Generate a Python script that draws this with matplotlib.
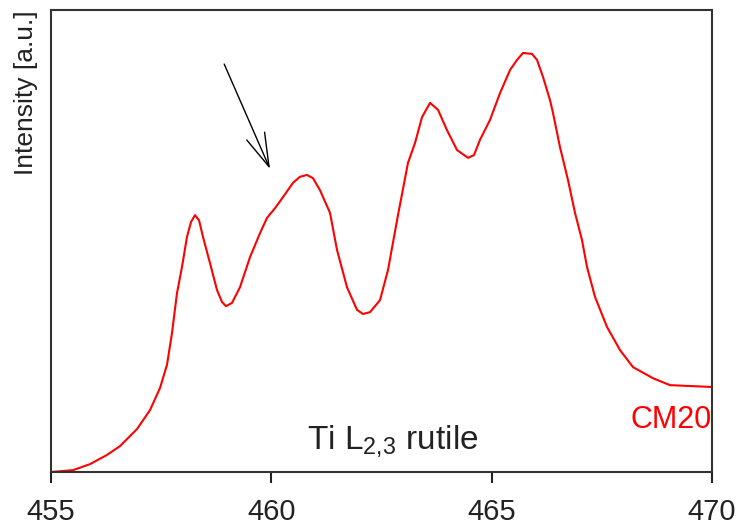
import matplotlib
matplotlib.use("Agg")
import matplotlib.pyplot as plt

# Ti L2,3 edge, rutile (CM20)
energy = [455.000, 455.499, 455.885, 456.271, 456.566, 456.952, 457.247, 457.474,
          457.632, 457.746, 457.859, 457.973, 458.086, 458.177, 458.268, 458.359,
          458.449, 458.608, 458.767, 458.880, 458.971, 459.107, 459.289, 459.516,
          459.743, 459.902, 460.083, 460.265, 460.492, 460.650, 460.809, 460.945,
          461.104, 461.331, 461.490, 461.717, 461.944, 462.080, 462.239, 462.466,
          462.647, 462.874, 463.101, 463.260, 463.419, 463.601, 463.782, 463.986,
          464.213, 464.463, 464.599, 464.735, 464.962, 465.189, 465.416, 465.575,
          465.711, 465.915, 466.029, 466.165, 466.324, 466.392, 466.551, 466.732,
          466.891, 467.050, 467.163, 467.345, 467.617, 467.912, 468.207, 468.661,
          469.047, 470.000]
intensity = [0.000, 0.004, 0.017, 0.037, 0.056, 0.093, 0.134, 0.182,
             0.232, 0.301, 0.387, 0.444, 0.509, 0.541, 0.556, 0.545,
             0.509, 0.452, 0.394, 0.368, 0.359, 0.366, 0.400, 0.465,
             0.517, 0.550, 0.571, 0.595, 0.626, 0.639, 0.643, 0.636,
             0.610, 0.561, 0.481, 0.400, 0.351, 0.342, 0.346, 0.372,
             0.437, 0.556, 0.669, 0.712, 0.768, 0.799, 0.784, 0.740,
             0.697, 0.680, 0.686, 0.719, 0.762, 0.820, 0.870, 0.892,
             0.907, 0.905, 0.892, 0.855, 0.805, 0.777, 0.703, 0.632,
             0.561, 0.502, 0.444, 0.379, 0.314, 0.264, 0.227, 0.203,
             0.188, 0.184]

x_ticks = [455, 460, 465, 470]
sample_name = "CM20"
edge_label = "Ti L$_{\\mathregular{2{,}3}}$ rutile"

# pointer to the shoulder of the second peak
arrow_tail = (458.93, 0.883)
arrow_head = (459.97, 0.656)

plt.rcParams["font.family"] = ["Liberation Sans", "DejaVu Sans"]
plt.rcParams["mathtext.fontset"] = "custom"
plt.rcParams["mathtext.rm"] = "Liberation Sans"

fig = plt.figure(figsize=(7.4, 5.29), dpi=100)
ax = fig.add_axes([51 / 740, 1 - 472 / 529, 661 / 740, 462 / 529])

ax.plot(energy, intensity, color="red", lw=1.5)

ax.set_xlim(455, 470)
ax.set_ylim(0, 1)
ax.set_xticks(x_ticks)
ax.set_xticklabels([str(t) for t in x_ticks])
ax.set_yticks([])
ax.tick_params(axis="x", direction="out", length=8, width=1.5,
               colors="#222222", labelsize=21, pad=11)
for s in ax.spines.values():
    s.set_linewidth(1.5)
    s.set_color("#333333")

ax.annotate("", xy=arrow_head, xytext=arrow_tail,
            arrowprops=dict(arrowstyle="->,head_length=1.2,head_width=0.35",
                            color="black", lw=1.0, mutation_scale=20,
                            shrinkA=0, shrinkB=0))

ax.text(462.76, 0.05, edge_label, ha="center", va="baseline",
        fontsize=24, color="#222222")
ax.text(470.0, 0.095, sample_name, ha="right", va="baseline",
        fontsize=22, color="red")

fig.text(26 / 740, 1 - 10 / 529, "Intensity [a.u.]", rotation=90,
         ha="center", va="top", fontsize=19, color="#222222")

fig.savefig("out.png", dpi=100)
